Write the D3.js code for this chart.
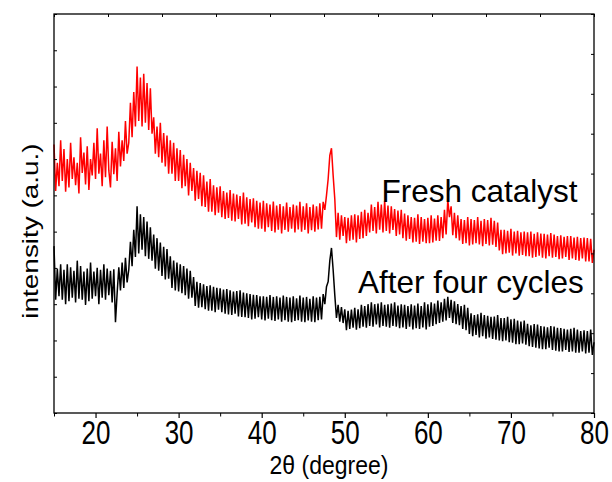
<!DOCTYPE html>
<html>
<head>
<meta charset="utf-8">
<script src="https://cdn.jsdelivr.net/npm/d3@7"></script>
<style>
  body { margin: 0; background: #fff; }
  svg { display: block; font-family: "Liberation Sans", Arial, sans-serif; }
</style>
</head>
<body>
<svg width="612" height="482"></svg>
<script>
// angles sampled every 0.2 deg, 15 -> 80
const twoTheta = d3.range(326).map(i => 15 + i * 0.2)

// fresh catalyst (red), one row per 5 deg
const fresh = [
  740, 612, 690, 625, 752, 640, 728, 610, 700, 622, 745, 645, 705, 628, 690, 605, 760, 662, 718, 630, 735, 615, 700, 655, 745,
  645, 785, 660, 715, 625, 752, 650, 790, 668, 622, 748, 658, 730, 640, 775, 680, 752, 695, 805, 715, 745, 855, 760, 885, 790,
  955, 805, 925, 790, 935, 800, 910, 780, 895, 770, 815, 715, 790, 705, 800, 690, 772, 680, 765, 660, 752, 660, 745, 640, 730,
  640, 725, 620, 712, 625, 700, 600, 690, 612, 675, 585, 668, 590, 662, 570, 655, 568, 638, 555, 645, 555, 628, 545, 622, 552,
  625, 540, 612, 535, 608, 538, 615, 530, 605, 528, 602, 535, 598, 520, 608, 522, 595, 515, 590, 525, 592, 512, 585, 508, 580,
  508, 585, 500, 578, 512, 575, 502, 583, 498, 572, 505, 576, 495, 570, 505, 580, 500, 568, 508, 575, 498, 572, 506, 582, 500,
  570, 505, 578, 495, 568, 504, 575, 500, 570, 506, 578, 508, 582, 560, 600, 645, 710, 730, 655, 590, 485, 552, 478, 545, 488,
  540, 468, 538, 475, 545, 478, 548, 470, 545, 480, 555, 482, 560, 488, 552, 498, 575, 502, 568, 495, 582, 505, 575, 498, 585,
  502, 572, 495, 570, 505, 562, 488, 558, 492, 560, 482, 550, 475, 545, 480, 540, 470, 538, 472, 548, 466, 540, 472, 535, 468,
  538, 468, 545, 470, 536, 475, 545, 474, 540, 482, 560, 492, 588, 540, 570, 490, 552, 482, 545, 476, 535, 466, 532, 468, 540,
  462, 535, 465, 532, 468, 540, 465, 530, 460, 535, 466, 532, 462, 538, 464, 530, 458, 525, 448, 505, 438, 505, 440, 502, 442,
  508, 434, 500, 440, 502, 434, 498, 436, 500, 432, 498, 432, 500, 428, 494, 430, 498, 434, 495, 428, 494, 426, 492, 432, 496,
  428, 492, 430, 488, 424, 490, 426, 486, 430, 488, 422, 488, 426, 484, 422, 486, 420, 482, 426, 484, 418, 482, 418, 480, 414,
  450
]

// after four cycles (black)
const cycled = [
  460, 312, 398, 322, 410, 312, 395, 300, 410, 308, 402, 318, 392, 305, 420, 315, 405, 312, 390, 298, 398, 308, 415, 315, 390,
  322, 400, 300, 395, 318, 410, 312, 398, 325, 392, 305, 396, 250, 330, 402, 338, 415, 345, 428, 360, 395, 472, 405, 505, 430,
  570, 440, 548, 450, 540, 432, 528, 425, 512, 420, 492, 398, 482, 392, 470, 378, 458, 368, 452, 370, 432, 345, 420, 338, 415,
  335, 410, 330, 405, 325, 398, 315, 392, 318, 375, 295, 362, 290, 358, 292, 355, 286, 350, 282, 352, 282, 348, 278, 345, 285,
  344, 278, 340, 274, 342, 272, 338, 270, 335, 274, 336, 266, 338, 265, 332, 264, 330, 262, 328, 258, 326, 260, 325, 264, 322,
  258, 322, 255, 320, 260, 325, 256, 320, 254, 322, 258, 318, 252, 324, 256, 320, 252, 318, 250, 322, 254, 316, 256, 324, 252,
  318, 250, 320, 255, 315, 252, 322, 250, 318, 256, 320, 258, 328, 300, 348, 362, 420, 455, 395, 325, 262, 298, 252, 292, 248,
  286, 228, 282, 232, 285, 235, 290, 230, 286, 234, 298, 238, 295, 235, 300, 240, 305, 238, 300, 244, 302, 236, 305, 240, 298,
  238, 300, 235, 302, 240, 305, 238, 296, 234, 300, 236, 298, 232, 295, 238, 300, 230, 296, 234, 302, 232, 295, 236, 305, 230,
  300, 238, 305, 240, 302, 245, 310, 248, 305, 252, 315, 255, 320, 262, 312, 248, 308, 245, 300, 242, 295, 232, 298, 228, 290,
  218, 275, 212, 270, 215, 272, 208, 276, 212, 270, 205, 268, 208, 265, 204, 266, 202, 270, 200, 262, 198, 262, 200, 265, 195,
  258, 194, 260, 190, 255, 190, 252, 192, 255, 188, 246, 184, 242, 182, 245, 180, 244, 178, 240, 176, 238, 176, 236, 180, 240,
  174, 238, 172, 235, 170, 234, 170, 232, 174, 230, 168, 232, 170, 235, 166, 230, 166, 226, 170, 228, 164, 226, 166, 230, 160,
  195
]

const xMajor = [20, 30, 40, 50, 60, 70, 80]
const xMinor = [15, 25, 35, 45, 55, 65, 75]
const topTicks = [15, 21.5, 28, 34.5, 41, 47.5, 54, 60.5, 67, 73.5, 80]
const leftTicks = [0, 100, 200, 300, 400, 500, 600, 700, 800, 900, 1000, 1100]
const rightTicks = [0, 110, 220, 330, 440, 550, 660, 770, 880, 990, 1100]

const pl = 54, pr = 594, pt = 14, pb = 413

const svg = d3.select('svg')
const x = d3.scaleLinear().domain([15, 80]).range([pl, pr])
const y = d3.scaleLinear().domain([0, 1100]).range([pb, pt])

const line = d3.line()
  .x((d, i) => x(twoTheta[i]))
  .y(d => y(d))

svg.append('path')
  .datum(fresh)
  .attr('d', line)
  .attr('fill', 'none')
  .attr('stroke', '#ff0000')
  .attr('stroke-width', 1.5)

svg.append('path')
  .datum(cycled)
  .attr('d', line)
  .attr('fill', 'none')
  .attr('stroke', '#000')
  .attr('stroke-width', 1.5)

// frame
svg.append('rect')
  .attr('x', pl).attr('y', pt)
  .attr('width', pr - pl).attr('height', pb - pt)
  .attr('fill', 'none')
  .attr('stroke', '#000')
  .attr('stroke-width', 1.3)

const noDomain = g => g.select('.domain').remove()

// bottom: labelled majors, short minors
svg.append('g')
  .attr('transform', `translate(0, ${pb})`)
  .call(d3.axisBottom(x).tickValues(xMajor).tickSize(5).tickFormat(d3.format('d')))
  .call(noDomain)
  .call(g => g.selectAll('line').attr('stroke-width', 1.2))
  .call(g => g.selectAll('text')
    .attr('font-size', 26)
    .attr('font-family', '"Liberation Sans", Arial, sans-serif')
    .attr('fill', '#000')
    .attr('y', 24.8)
    .attr('dy', null)
    .attr('transform', 'scale(1,1.25)'))

svg.append('g')
  .attr('transform', `translate(0, ${pb})`)
  .call(d3.axisBottom(x).tickValues(xMinor).tickSize(3.5).tickFormat(''))
  .call(noDomain)

svg.append('g')
  .attr('transform', `translate(0, ${pt})`)
  .call(d3.axisTop(x).tickValues(topTicks).tickSize(-3).tickFormat(''))
  .call(noDomain)

svg.append('g')
  .attr('transform', `translate(${pl}, 0)`)
  .call(d3.axisLeft(y).tickValues(leftTicks).tickSize(-3).tickFormat(''))
  .call(noDomain)

svg.append('g')
  .attr('transform', `translate(${pr}, 0)`)
  .call(d3.axisRight(y).tickValues(rightTicks).tickSize(-3).tickFormat(''))
  .call(noDomain)

// titles
svg.append('text')
  .attr('transform', 'translate(329, 473.5) scale(1,1.13)')
  .attr('text-anchor', 'middle')
  .attr('font-size', 23)
  .text('2θ (degree)')

svg.append('text')
  .attr('transform', 'translate(37.5, 231) scale(1,1.27) rotate(-90)')
  .attr('text-anchor', 'middle')
  .attr('font-size', 22)
  .text('intensity (a.u.)')

svg.append('text')
  .attr('x', 381.5).attr('y', 201.5)
  .attr('font-size', 31.5)
  .text('Fresh catalyst')

svg.append('text')
  .attr('x', 358).attr('y', 293)
  .attr('font-size', 31.5)
  .text('After four cycles')
</script>
</body>
</html>
